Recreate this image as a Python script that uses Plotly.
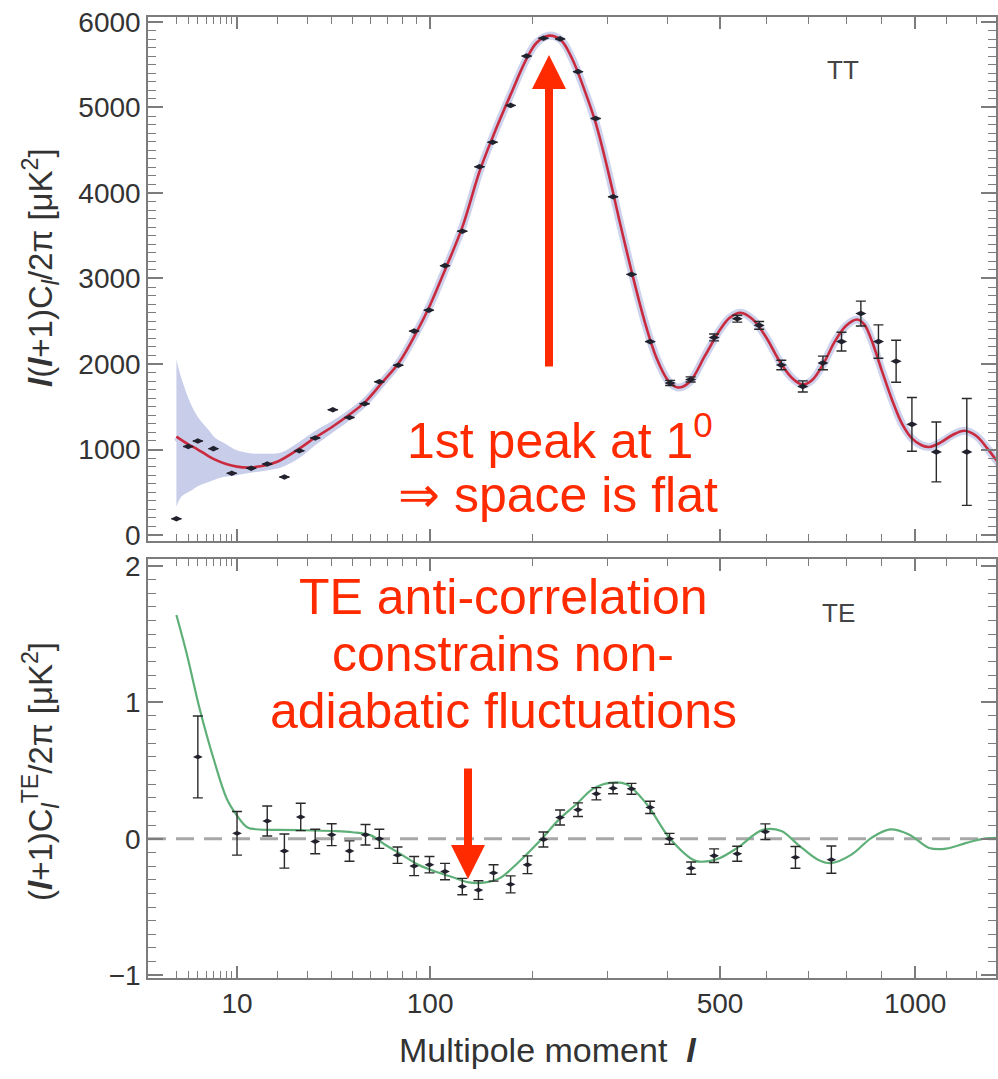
import numpy as np
import plotly.graph_objects as go

# ---------------- data ----------------
# TT binned measurements
tt_l = [2, 3, 4, 6, 9, 13, 17, 22, 27, 33, 40.5, 48.5, 56.5, 65, 77, 88, 99, 112, 127, 143, 156,
        175, 193, 213, 234, 258, 283, 309, 338, 369, 404, 442, 488, 536, 584, 635, 687, 738,
        787, 840, 890, 942, 990, 1067, 1168]
tt_val = [190, 1035, 1100, 1010, 722, 780, 830, 678, 985, 1135, 1465, 1375, 1535, 1793, 1985,
          2385, 2630, 3150, 3552, 4306, 4593, 5024, 5601, 5810, 5802, 5419, 4871, 3956, 3048,
          2262, 1778, 1819, 2310, 2530, 2452, 1988, 1738, 2012, 2262, 2590, 2262, 2032, 1294,
          972, 972]
tt_err = [0, 0, 0, 0, 0, 0, 0, 0, 0, 0, 0, 0, 0, 0, 0, 0, 0, 0, 0, 0, 0, 0, 0, 0, 0, 0, 0, 0, 0, 0,
          30, 30, 40, 40, 45, 55, 65, 80, 110, 145, 195, 245, 315, 350, 625]

# TT best-fit model curve
tt_model_l = [2, 3, 4, 5, 6, 8, 10, 12.5, 16, 20, 27, 33, 40, 48, 57, 67, 78, 90, 100, 112, 127,
              143, 156, 175, 193, 205, 220, 235, 250, 265, 283, 300, 320, 340, 360, 380, 400, 418,
              440, 470, 500, 520, 543, 570, 600, 630, 660, 686, 710, 740, 770, 800, 830, 850, 870,
              900, 930, 960, 990, 1020, 1045, 1080, 1120, 1160, 1200, 1240, 1270, 1300]
tt_model = [1150, 1060, 1000, 940, 890, 830, 800, 790, 810, 860, 1010, 1140, 1260, 1400, 1560,
            1790, 2030, 2380, 2690, 3100, 3600, 4250, 4650, 5150, 5570, 5760, 5840, 5790, 5570,
            5250, 4820, 4300, 3640, 3030, 2490, 2070, 1810, 1725, 1790, 2100, 2400, 2540, 2600,
            2520, 2310, 2040, 1840, 1760, 1810, 2010, 2270, 2450, 2520, 2460, 2280, 1920, 1580,
            1300, 1130, 1050, 1030, 1080, 1170, 1220, 1160, 1010, 880, 760]

# cosmic-variance band around the TT model (visible at low multipoles)
band_l = [2, 2.4, 3.3, 4, 5.3, 6.2, 7.8, 10, 12.4, 16, 21, 27, 33, 40, 48, 57, 67, 78]
band_lo = [330, 450, 520, 570, 620, 647, 680, 700, 725, 750, 790, 900, 1050, 1190, 1330, 1500,
           1730, 1975]
band_hi = [2050, 1830, 1520, 1380, 1230, 1140, 1070, 990, 960, 950, 965, 1090, 1220, 1330, 1460,
           1620, 1850, 2085]

# TE binned measurements
te_l = [4, 10, 17, 22, 27.5, 33, 40, 48.5, 57, 65, 76.5, 88, 99.5, 112, 127, 142, 157, 175, 194,
        213, 234, 258, 284, 309, 338, 369, 403, 443, 488, 536, 598, 669, 760]
te_val = [0.60, 0.04, 0.13, -0.09, 0.16, -0.02, 0.03, -0.09, 0.03, 0.0, -0.12, -0.20, -0.19,
          -0.24, -0.35, -0.376, -0.25, -0.334, -0.19, -0.005, 0.156, 0.213, 0.33, 0.37, 0.366,
          0.23, 0.0, -0.215, -0.124, -0.11, 0.052, -0.136, -0.153]
te_err = [0.30, 0.16, 0.11, 0.125, 0.10, 0.09, 0.08, 0.075, 0.075, 0.07, 0.06, 0.07, 0.06, 0.06,
          0.06, 0.068, 0.06, 0.062, 0.065, 0.055, 0.055, 0.05, 0.045, 0.04, 0.04, 0.045, 0.04,
          0.045, 0.05, 0.055, 0.057, 0.08, 0.1]

# TE best-fit model curve
te_model_l = [2, 2.85, 4.26, 6, 8.15, 10, 12.1, 15, 20, 27.5, 41, 50, 60, 68.3, 79.2, 91.1, 104,
              118, 133, 149, 163, 184, 211, 233, 256, 279, 304, 330, 363, 404, 450, 475, 500,
              536, 592, 635, 675, 725, 760, 814, 870, 924, 981, 1044, 1099, 1166, 1224, 1290]
te_model = [1.64, 1.36, 0.94, 0.59, 0.29, 0.17, 0.085, 0.068, 0.065, 0.063, 0.057, 0.048, 0.025,
            -0.042, -0.116, -0.19, -0.24, -0.28, -0.32, -0.32, -0.29, -0.17, 0.0, 0.144, 0.255,
            0.366, 0.41, 0.40, 0.255, 0.0, -0.16, -0.165, -0.14, -0.067, 0.065, 0.057, -0.042,
            -0.153, -0.178, -0.116, 0.007, 0.069, 0.032, -0.067, -0.072, -0.03, 0.0, 0.007]

x_major = [10, 100, 500, 1000]
x_major_text = ["10", "100", "500", "1000"]
x_minor = [2, 3, 4, 5, 6, 7, 8, 9, 20, 30, 40, 50, 60, 70, 80, 90,
           200, 300, 400, 600, 700, 800, 900, 1100, 1200]

# ---------------- styling / layout helpers ----------------
EXP = 0.4                       # the multipole axis is a power-law (l^0.4) scale


def X(v):
    return (np.asarray(v, dtype=float) ** EXP).tolist()


W, H = 998, 1079
ML, MR, MT, MB = 148, 2, 17, 101
PW, PH = W - ML - MR, H - MT - MB


def pxp(xpix):
    return (xpix - ML) / PW


def pyp(ypix):
    return (H - MB - ypix) / PH


FONT = "Liberation Sans, Arial, Helvetica, sans-serif"
AX = "#7c7c7c"
RED = "#ff2a00"
TXT = "#333333"
BAND = "rgb(200,206,234)"

fig = go.Figure()

# band
fig.add_trace(go.Scatter(x=X(band_l), y=band_lo, mode="lines", line=dict(width=0, shape="spline"),
                         hoverinfo="skip", showlegend=False, xaxis="x", yaxis="y"))
fig.add_trace(go.Scatter(x=X(band_l), y=band_hi, mode="lines", line=dict(width=0, shape="spline"),
                         fill="tonexty", fillcolor=BAND, hoverinfo="skip",
                         showlegend=False, xaxis="x", yaxis="y"))
# faint halo of the band along the model at high multipoles
fig.add_trace(go.Scatter(x=X(tt_model_l), y=tt_model, mode="lines",
                         line=dict(color="rgba(200,206,234,0.9)", width=8, shape="spline",
                                   smoothing=1.0),
                         hoverinfo="skip", showlegend=False, xaxis="x", yaxis="y"))
# TT model
fig.add_trace(go.Scatter(x=X(tt_model_l), y=tt_model, mode="lines",
                         line=dict(color="#c92a3e", width=2.6, shape="spline", smoothing=1.0),
                         showlegend=False, xaxis="x", yaxis="y"))
# TT points
fig.add_trace(go.Scatter(x=X(tt_l), y=tt_val, mode="markers",
                         marker=dict(symbol="diamond-wide", size=8, color="#22222e"),
                         error_y=dict(type="data", array=tt_err, visible=True, color="#2a2a2a",
                                      thickness=1.4, width=5),
                         showlegend=False, xaxis="x", yaxis="y"))
# TE model
fig.add_trace(go.Scatter(x=X(te_model_l), y=te_model, mode="lines",
                         line=dict(color="#5faf78", width=2.2, shape="spline", smoothing=1.0),
                         showlegend=False, xaxis="x2", yaxis="y2"))
# TE points
fig.add_trace(go.Scatter(x=X(te_l), y=te_val, mode="markers",
                         marker=dict(symbol="diamond-wide", size=7, color="#22222e"),
                         error_y=dict(type="data", array=te_err, visible=True, color="#2a2a2a",
                                      thickness=1.4, width=5),
                         showlegend=False, xaxis="x2", yaxis="y2"))

# zero reference line in TE panel
fig.add_shape(type="line", xref="x2 domain", yref="y2", x0=0, x1=1, y0=0, y1=0,
              line=dict(color="#a8a8a8", width=3, dash="18px,10px"), layer="below")

xrange = [X(0.505), X(1270)]
common_x = dict(range=xrange, tickmode="array", tickvals=X(x_major), ticks="inside", ticklen=12,
                tickwidth=1.5, tickcolor=AX, showline=True, linecolor=AX, linewidth=1.5,
                mirror="allticks", showgrid=False, zeroline=False,
                minor=dict(tickmode="array", tickvals=X(x_minor), ticks="inside", ticklen=7,
                           tickwidth=1.2, tickcolor=AX, showgrid=False))
common_y = dict(ticks="inside", ticklen=15, tickwidth=1.5, tickcolor=AX, showline=True,
                linecolor=AX, linewidth=1.5, mirror="allticks", showgrid=False, zeroline=False,
                tickfont=dict(family=FONT, size=28, color=TXT))

fig.update_layout(
    width=W, height=H, margin=dict(l=ML, r=MR, t=MT, b=MB, autoexpand=False),
    paper_bgcolor="white", plot_bgcolor="white",
    font=dict(family=FONT, color=TXT),
    xaxis=dict(domain=[0, 1], anchor="y", showticklabels=False, **common_x),
    xaxis2=dict(domain=[0, 1], anchor="y2", ticktext=x_major_text,
                tickfont=dict(family=FONT, size=28, color=TXT), **common_x),
    yaxis=dict(domain=[pyp(541), 1], anchor="x", range=[-70, 6058], tick0=0, dtick=1000,
               minor=dict(dtick=100, ticks="inside", ticklen=8, tickwidth=1.2, tickcolor=AX,
                          showgrid=False),
               **common_y),
    yaxis2=dict(domain=[0, pyp(559)], anchor="x2", range=[-1.02, 2.05], tick0=0, dtick=1,
                minor=dict(dtick=0.1, ticks="inside", ticklen=8, tickwidth=1.2, tickcolor=AX,
                           showgrid=False),
                **common_y),
    showlegend=False,
)

ann = []
# axis titles
ann.append(dict(text="<b><i>l</i></b>(<b><i>l</i></b>+1)C<sub><i>l</i></sub>/2π [μK<sup>2</sup>]",
                xref="paper", yref="paper", x=pxp(40), y=pyp(268), textangle=-90,
                showarrow=False, font=dict(family=FONT, size=33, color=TXT),
                xanchor="center", yanchor="middle"))
ann.append(dict(text="(<b><i>l</i></b>+1)C<sub><i>l</i></sub><sup>TE</sup>/2π [μK<sup>2</sup>]",
                xref="paper", yref="paper", x=pxp(40), y=pyp(772), textangle=-90,
                showarrow=False, font=dict(family=FONT, size=33, color=TXT),
                xanchor="center", yanchor="middle"))
ann.append(dict(text="Multipole moment  <b><i>l</i></b>", xref="paper", yref="paper",
                x=pxp(548), y=pyp(1050), showarrow=False,
                font=dict(family=FONT, size=34, color=TXT), xanchor="center", yanchor="middle"))
# panel labels
ann.append(dict(text="TT", xref="paper", yref="paper", x=pxp(843), y=pyp(70), showarrow=False,
                font=dict(family=FONT, size=26, color="#444"), xanchor="center", yanchor="middle"))
ann.append(dict(text="TE", xref="paper", yref="paper", x=pxp(838), y=pyp(613), showarrow=False,
                font=dict(family=FONT, size=26, color="#444"), xanchor="center", yanchor="middle"))
# red commentary
for txt, xc, yc in [("1st peak at 1<sup>0</sup>", 560, 437),
                    ("⇒ space is flat", 558, 495),
                    ("TE anti-correlation", 503, 597),
                    ("constrains non-", 503, 654),
                    ("adiabatic fluctuations", 503, 711)]:
    ann.append(dict(text=txt, xref="paper", yref="paper", x=pxp(xc), y=pyp(yc), showarrow=False,
                    font=dict(family=FONT, size=50, color=RED), xanchor="center",
                    yanchor="middle"))
# red arrows
ann.append(dict(text="", xref="paper", yref="paper", x=pxp(549), y=pyp(55), ax=0, ay=313,
                showarrow=True, arrowhead=2, arrowsize=0.85, arrowwidth=8, arrowcolor=RED,
                standoff=0, startstandoff=0))
ann.append(dict(text="", xref="paper", yref="paper", x=pxp(468), y=pyp(879), ax=0, ay=-112,
                showarrow=True, arrowhead=2, arrowsize=0.85, arrowwidth=8, arrowcolor=RED,
                standoff=0, startstandoff=0))
fig.update_layout(annotations=ann)

fig.write_html("out.html")
